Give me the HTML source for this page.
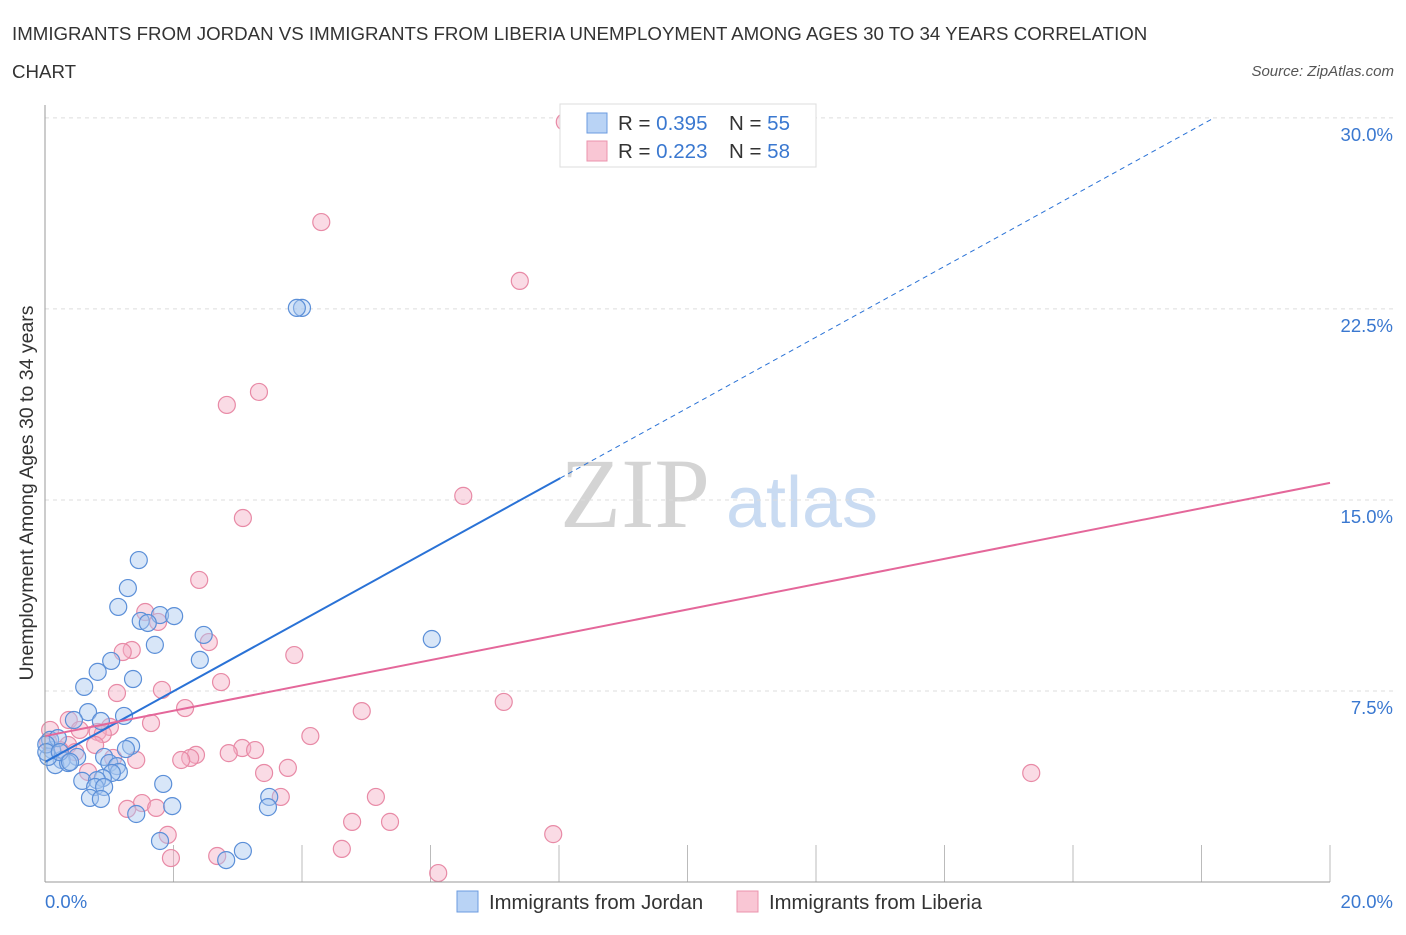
<!DOCTYPE html>
<html><head><meta charset="utf-8"><style>
body{margin:0;background:#fff;font-family:"Liberation Sans",sans-serif;}
</style></head><body>
<svg id="chart" width="1406" height="930" font-family="Liberation Sans, sans-serif">
<text x="12" y="40" font-size="18.7" fill="#333">IMMIGRANTS FROM JORDAN VS IMMIGRANTS FROM LIBERIA UNEMPLOYMENT AMONG AGES 30 TO 34 YEARS CORRELATION</text>
<text x="12" y="78" font-size="18.7" fill="#333">CHART</text>
<text x="1394" y="76" font-size="15" fill="#555" font-style="italic" text-anchor="end">Source: ZipAtlas.com</text>
<text x="635" y="527" font-size="100" fill="#d4d4d4" style="font-family:'Liberation Serif',serif" text-anchor="middle">ZIP</text>
<text x="802" y="527" font-size="72" fill="#c9dbf2" text-anchor="middle">atlas</text>
<g id="grid"></g><g id="marks"></g><g id="lines"></g>
<line x1="45" y1="105" x2="45" y2="882" stroke="#999"/>
<line x1="45" y1="882" x2="1330" y2="882" stroke="#999"/>
<text x="33" y="493" font-size="19.5" fill="#333" text-anchor="middle" transform="rotate(-90 33 493)">Unemployment Among Ages 30 to 34 years</text>
<text x="45" y="908" font-size="18.5" fill="#3a78d0">0.0%</text>
<text x="1393" y="908" font-size="18.5" fill="#3a78d0" text-anchor="end">20.0%</text>
<g>
<rect x="560" y="104" width="256" height="63" fill="#fff" stroke="#ddd"/>
<rect x="587" y="113" width="20" height="20" fill="#b9d3f5" stroke="#6b9be0"/>
<rect x="587" y="141" width="20" height="20" fill="#f9c6d4" stroke="#eb93ad"/>
<text x="618" y="130" font-size="20.5" fill="#333">R = <tspan fill="#3a78d0">0.395</tspan></text>
<text x="729" y="130" font-size="20.5" fill="#333">N = <tspan fill="#3a78d0">55</tspan></text>
<text x="618" y="158" font-size="20.5" fill="#333">R = <tspan fill="#3a78d0">0.223</tspan></text>
<text x="729" y="158" font-size="20.5" fill="#333">N = <tspan fill="#3a78d0">58</tspan></text>
</g>
<g>
<rect x="457" y="891" width="21" height="21" fill="#b9d3f5" stroke="#6b9be0"/>
<text x="489" y="909" font-size="20.3" fill="#333">Immigrants from Jordan</text>
<rect x="737" y="891" width="21" height="21" fill="#f9c6d4" stroke="#eb93ad"/>
<text x="769" y="909" font-size="20.3" fill="#333">Immigrants from Liberia</text>
</g>
</svg>
<script>
const yTicks=[7.5,15,22.5,30];
const yTickLabels=["7.5%","15.0%","22.5%","30.0%"];
const xTicks=[0,2,4,6,8,10,12,14,16,18,20];
const jordanX=[1.46,1.29,1.14,1.79,2.01,1.49,1.60,1.71,2.47,2.41,6.02,1.03,0.82,1.37,0.61,0.67,1.23,0.45,0.87,1.34,1.26,0.92,0.50,0.26,0.16,0.36,0.11,0.08,0.20,0.05,1.00,1.12,1.15,1.04,0.90,0.58,0.81,0.78,0.92,1.84,0.70,0.87,1.98,1.42,3.49,3.47,1.79,3.08,2.82,4.00,3.92,0.02,0.02,0.23,0.39];
const jordanY=[12.64,11.54,10.80,10.48,10.44,10.25,10.17,9.31,9.70,8.72,9.54,8.68,8.25,7.97,7.66,6.67,6.52,6.36,6.32,5.34,5.22,4.91,4.91,4.79,4.59,4.67,5.18,5.58,5.65,4.91,4.67,4.55,4.32,4.28,4.08,3.97,4.00,3.73,3.73,3.85,3.30,3.26,2.98,2.67,3.34,2.94,1.61,1.22,0.86,22.54,22.54,5.40,5.10,5.10,4.71];
const liberiaX=[8.09,4.30,7.39,3.33,2.83,6.51,3.08,2.40,1.56,1.76,2.55,1.35,1.21,3.88,1.82,1.12,2.74,7.14,2.18,4.93,1.65,0.37,1.01,0.54,0.82,0.90,0.08,4.13,3.07,3.27,2.86,2.35,2.26,2.12,1.42,1.06,0.36,0.23,3.78,3.41,0.67,15.35,5.15,3.67,1.51,1.28,1.73,5.37,4.78,7.91,1.91,4.62,2.68,1.96,6.12,0.78,0.05,0.47];
const liberiaY=[29.84,25.91,23.60,19.24,18.73,15.16,14.29,11.86,10.60,10.21,9.42,9.11,9.03,8.91,7.54,7.42,7.85,7.07,6.83,6.71,6.24,6.36,6.09,5.97,5.89,5.81,5.97,5.73,5.26,5.18,5.06,4.99,4.87,4.79,4.79,4.87,5.38,5.18,4.48,4.28,4.32,4.28,3.34,3.34,3.10,2.87,2.91,2.36,2.36,1.88,1.85,1.30,1.02,0.94,0.35,5.38,5.50,5.10];
const jordanFit=[4.71,1.39];
const liberiaFit=[5.73,0.497];
const NS="http://www.w3.org/2000/svg";
const sx=v=>45+v*64.25, sy=v=>882-v*25.47;
function mk(tag,attrs,parent){const e=document.createElementNS(NS,tag);for(const k in attrs)e.setAttribute(k,attrs[k]);document.getElementById(parent).appendChild(e);return e;}
yTicks.forEach((t,i)=>{
 const g=mk('line',{x1:45,x2:1393,y1:sy(t),y2:sy(t),stroke:'#ddd','stroke-dasharray':'4,4'},'grid');
 
 
 const l=mk('text',{x:1393,y:sy(t)+23,'font-size':18.5,fill:'#3a78d0','text-anchor':'end'},'grid');
 l.textContent=yTickLabels[i];
 
 
});
xTicks.forEach(t=>{
 const l=mk('line',{x1:sx(t),x2:sx(t),y1:845,y2:882,stroke:'#bbb'},'grid');
 
 
});
function pts(X,Y,fill,stroke,name){X.forEach((x,i)=>{
 const c=mk('circle',{cx:sx(x),cy:sy(Y[i]),r:8.5,fill:fill,'fill-opacity':0.45,stroke:stroke,'stroke-width':1.2},'marks');
 
 
});}
pts(liberiaX,liberiaY,'#f5b0c5','#e88aa6','liberia-point');
pts(jordanX,jordanY,'#a9c8f0','#5b8fd8','jordan-point');
const bEnd=(30-jordanFit[0])/jordanFit[1];
const b1=mk('line',{x1:sx(0),y1:sy(jordanFit[0]),x2:sx(8.02),y2:sy(jordanFit[0]+jordanFit[1]*8.02),stroke:'#2a72d6','stroke-width':2},'lines');


const b2=mk('line',{x1:sx(8.02),y1:sy(jordanFit[0]+jordanFit[1]*8.02),x2:sx(bEnd),y2:sy(30),stroke:'#2a72d6','stroke-width':1,'stroke-dasharray':'5,4'},'lines');


const p1=mk('line',{x1:sx(0),y1:sy(liberiaFit[0]),x2:sx(20),y2:sy(liberiaFit[0]+liberiaFit[1]*20),stroke:'#e4679a','stroke-width':2},'lines');


</script>
</body></html>
